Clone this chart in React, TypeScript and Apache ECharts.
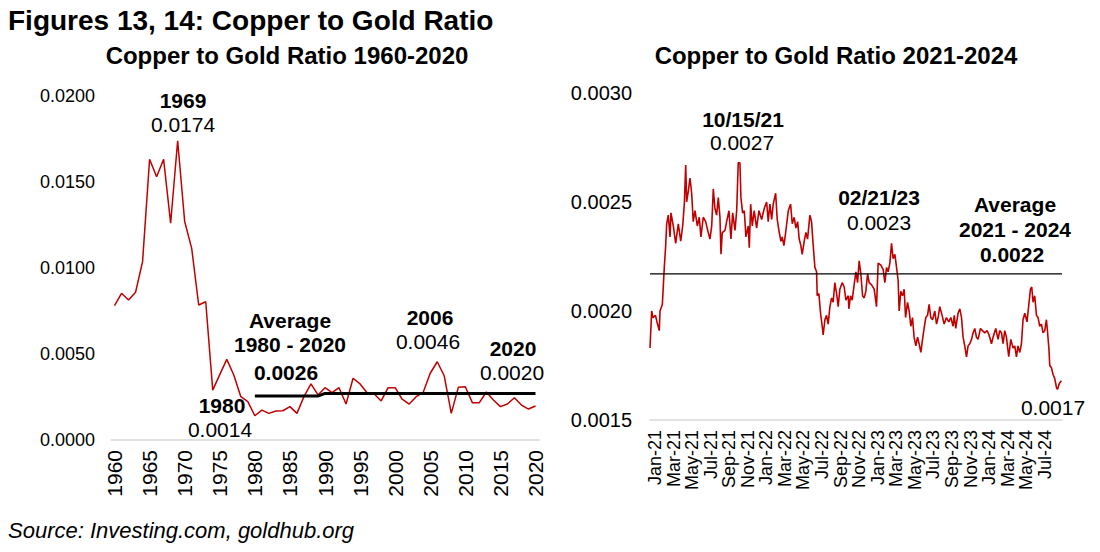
import React, { useEffect, useRef } from "react";
import * as echarts from "echarts";

const FONT = "'Liberation Sans', Arial, Helvetica, sans-serif";
const RED = "#c00000";

// ---------- Left chart: annual copper/gold ratio 1960-2020 ----------
const annualYears: string[] = [];
for (let y = 1960; y <= 2020; y++) annualYears.push(String(y));

const annualRatio = [
  0.00781, 0.00853, 0.00814, 0.00859, 0.01037, 0.01632, 0.01531, 0.01632, 0.0126, 0.0174,
  0.0127, 0.01114, 0.00785, 0.00804, 0.0029, 0.0038, 0.00469, 0.00378, 0.00252, 0.00223,
  0.00141, 0.00174, 0.00155, 0.00169, 0.0017, 0.00194, 0.00155, 0.00252, 0.00326, 0.00262,
  0.00304, 0.00275, 0.00304, 0.00209, 0.00359, 0.00326, 0.00275, 0.00269, 0.00227, 0.00304,
  0.00304, 0.00237, 0.00209, 0.00252, 0.00277, 0.00388, 0.00455, 0.00372, 0.00155, 0.00306,
  0.0031, 0.00217, 0.00217, 0.00279, 0.00233, 0.00194, 0.00209, 0.00246, 0.00203, 0.0018,
  0.00198,
];

// average 1980-2020 line (null before 1980)
const averageEarly = 0.00256; // 1980-1989
const averageLate = 0.00271; // 1990-2020

// ---------- Right chart: 2021-2024 (x = months since Jan 2021) ----------
const recentMonths = [
  -0.54, -0.36, -0.22, 0.05, 0.27, 0.46, 0.54, 0.79, 1.0, 1.15, 1.26, 1.43, 1.62, 1.72, 1.97,
  2.23, 2.51, 2.77, 2.98, 3.16, 3.31, 3.41, 3.59, 3.77, 3.95, 4.12, 4.31, 4.56, 4.77, 4.95,
  5.2, 5.46, 5.68, 5.92, 6.11, 6.28, 6.46, 6.64, 6.82, 7.0, 7.11, 7.25, 7.54, 7.72, 7.97,
  8.18, 8.37, 8.62, 8.8, 8.97, 9.15, 9.26, 9.44, 9.62, 9.8, 10.05, 10.16, 10.31, 10.48, 10.69,
  10.95, 11.2, 11.49, 11.77, 12.03, 12.2, 12.38, 12.57, 12.74, 13.0, 13.17, 13.39, 13.57, 13.71,
  13.89, 14.08, 14.36, 14.61, 14.79, 15.0, 15.18, 15.37, 15.54, 15.72, 15.86, 16.08, 16.26,
  16.44, 16.69, 16.87, 17.05, 17.23, 17.41, 17.48, 17.66, 17.84, 18.02, 18.12, 18.31, 18.49,
  18.66, 18.85, 19.03, 19.2, 19.38, 19.57, 19.74, 19.92, 20.17, 20.39, 20.57, 20.82, 20.89,
  21.07, 21.25, 21.46, 21.65, 21.83, 22.0, 22.18, 22.37, 22.54, 22.72, 22.91, 23.08, 23.34,
  23.62, 23.87, 24.05, 24.34, 24.59, 24.77, 24.95, 25.12, 25.31, 25.49, 25.66, 25.85, 26.03,
  26.2, 26.31, 26.49, 26.67, 26.85, 27.0, 27.21, 27.39, 27.57, 27.75, 27.92, 28.11, 28.29,
  28.46, 28.65, 28.83, 29.0, 29.18, 29.37, 29.54, 29.72, 29.91, 30.15, 30.34, 30.51, 30.69,
  30.94, 31.16, 31.41, 31.66, 31.88, 32.12, 32.25, 32.41, 32.66, 32.85, 33.03, 33.2, 33.38,
  33.57, 33.74, 33.92, 34.11, 34.28, 34.46, 34.64, 34.82, 35.07, 35.29, 35.54, 35.79, 36.0,
  36.26, 36.43, 36.72, 36.97, 37.15, 37.34, 37.51, 37.69, 37.87, 38.12, 38.34, 38.59, 38.77,
  38.95, 39.12, 39.31, 39.49, 39.66, 39.85, 40.09, 40.31, 40.46, 40.6, 40.74, 40.92, 41.11,
  41.28, 41.46, 41.64, 41.82, 42.0, 42.18, 42.29, 42.46, 42.54, 42.72, 42.89, 43.08, 43.26,
  43.37, 43.51, 43.61, 43.8,
];

const recentRatio = [
  0.00183, 0.002, 0.00197, 0.00198, 0.00194, 0.00191, 0.002, 0.00203, 0.0022, 0.0023, 0.0024,
  0.00244, 0.00234, 0.00245, 0.00239, 0.00231, 0.0024, 0.00232, 0.00239, 0.00249, 0.00267,
  0.0025, 0.00255, 0.00261, 0.00254, 0.00241, 0.00246, 0.00239, 0.00243, 0.00234, 0.00243,
  0.00241, 0.00237, 0.00233, 0.00239, 0.00256, 0.00247, 0.00244, 0.00252, 0.00243, 0.00226,
  0.00236, 0.00237, 0.00241, 0.00246, 0.00233, 0.00245, 0.00237, 0.00246, 0.00268, 0.00268,
  0.00252, 0.00245, 0.00246, 0.00234, 0.00239, 0.00229, 0.00249, 0.00239, 0.00246, 0.00238,
  0.00246, 0.00242, 0.00247, 0.0025, 0.00241, 0.00249, 0.00242, 0.00249, 0.00254, 0.00242,
  0.00236, 0.00232, 0.00234, 0.0023, 0.00236, 0.00246, 0.00249, 0.0024, 0.00243, 0.00238,
  0.00241, 0.00233, 0.0023, 0.00226, 0.00232, 0.00236, 0.00233, 0.00244, 0.00241, 0.0023,
  0.0022, 0.00218, 0.00207, 0.00208, 0.00199, 0.00193, 0.00189, 0.00196, 0.00198, 0.00194,
  0.00202, 0.00206, 0.00204, 0.00213, 0.00208, 0.00202, 0.0021, 0.00213, 0.00211, 0.00205,
  0.00207, 0.00201, 0.00207, 0.00205, 0.00212, 0.00218, 0.00213, 0.00223, 0.00217, 0.00207,
  0.00206, 0.00209, 0.00217, 0.00213, 0.00212, 0.0021, 0.00202, 0.00222, 0.00221, 0.00219,
  0.00213, 0.0022, 0.00218, 0.00222, 0.00231, 0.00224, 0.00226, 0.0022, 0.00214, 0.002,
  0.00209, 0.00207, 0.0021, 0.00197, 0.00204, 0.002, 0.00193, 0.00197, 0.00188, 0.00184,
  0.00188, 0.00185, 0.00181, 0.00187, 0.00192, 0.00197, 0.00198, 0.00203, 0.00197, 0.00196,
  0.002, 0.00194, 0.00197, 0.00202, 0.00198, 0.00194, 0.00197, 0.00195, 0.00197, 0.00193,
  0.00198, 0.00192, 0.00199, 0.00201, 0.00197, 0.00188, 0.00184, 0.00179, 0.00184, 0.00185,
  0.00187, 0.0019, 0.00192, 0.00188, 0.00187, 0.00192, 0.00191, 0.0019, 0.00191, 0.00189,
  0.00185, 0.00188, 0.00192, 0.00187, 0.00191, 0.0019, 0.00185, 0.00191, 0.00188, 0.00179,
  0.00187, 0.00183, 0.00184, 0.00179, 0.00184, 0.00181, 0.00185, 0.00196, 0.00199, 0.00195,
  0.00204, 0.0021, 0.00211, 0.00204, 0.00207, 0.00198, 0.00197, 0.00193, 0.00194, 0.0019,
  0.00191, 0.00196, 0.00191, 0.00182, 0.00175, 0.00174, 0.00171, 0.00169, 0.00165, 0.00164,
  0.00166, 0.00167, 0.00168,
];

const recentAverage = 0.00217;
const recentAxisStart = -0.54;
const recentAxisEnd = 43.86;
const recentTickMonths = [0, 2, 4, 6, 8, 10, 12, 14, 16, 18, 20, 22, 24, 26, 28, 30, 32, 34, 36, 38, 40, 42];
const monthNames = ["Jan", "Feb", "Mar", "Apr", "May", "Jun", "Jul", "Aug", "Sep", "Oct", "Nov", "Dec"];

function monthLabel(m: number): string {
  const idx = Math.round(m);
  return monthNames[idx % 12] + "-" + String(21 + Math.floor(idx / 12));
}

export default function App() {
  const ref = useRef<HTMLDivElement>(null);

  useEffect(() => {
    if (!ref.current) return;
    const chart = echarts.init(ref.current, undefined, { renderer: "svg" });

    const annualAverage = annualYears.map((y) => {
      const yr = Number(y);
      if (yr < 1980) return null;
      return yr < 1990 ? averageEarly : averageLate;
    });

    const recentData = recentMonths.map((m, i) => [m, recentRatio[i]]);

    const txt = (x: number, y: number, text: string, size: number, bold: boolean, align = "center", italic = false) => ({
      type: "text",
      x,
      y,
      style: {
        text,
        fill: "#000",
        font: `${italic ? "italic " : ""}${bold ? "bold " : ""}${size}px ${FONT}`,
        textAlign: align,
        textVerticalAlign: "middle",
      },
    });

    chart.setOption({
      animation: false,
      backgroundColor: "#ffffff",
      textStyle: { fontFamily: FONT },
      grid: [
        { left: 111, right: 561, top: 96, bottom: 112 },
        { left: 650, right: 38, top: 93, bottom: 132 },
      ],
      xAxis: [
        {
          type: "category",
          gridIndex: 0,
          data: annualYears,
          boundaryGap: true,
          axisLine: { lineStyle: { color: "#d9d9d9", width: 1.5 } },
          axisTick: { show: false },
          axisLabel: { interval: 4, rotate: 90, fontSize: 21, color: "#000", margin: 10, fontFamily: FONT },
          splitLine: { show: false },
        },
        {
          type: "value",
          gridIndex: 1,
          min: recentAxisStart,
          max: recentAxisEnd,
          axisLine: { lineStyle: { color: "#d9d9d9", width: 1.5 } },
          axisTick: { show: false },
          splitLine: { show: false },
          axisLabel: {
            customValues: recentTickMonths,
            rotate: 90,
            fontSize: 18,
            color: "#000",
            margin: 10,
            fontFamily: FONT,
            formatter: (v: number) => monthLabel(v),
          },
        },
      ],
      yAxis: [
        {
          type: "value",
          gridIndex: 0,
          min: 0,
          max: 0.02,
          interval: 0.005,
          axisLine: { show: false },
          axisTick: { show: false },
          splitLine: { show: false },
          axisLabel: { fontSize: 18, color: "#000", margin: 16, fontFamily: FONT, formatter: (v: number) => v.toFixed(4) },
        },
        {
          type: "value",
          gridIndex: 1,
          min: 0.0015,
          max: 0.003,
          interval: 0.0005,
          axisLine: { show: false },
          axisTick: { show: false },
          splitLine: { show: false },
          axisLabel: { fontSize: 20, color: "#000", margin: 18, fontFamily: FONT, formatter: (v: number) => v.toFixed(4) },
        },
      ],
      series: [
        {
          type: "line",
          xAxisIndex: 0,
          yAxisIndex: 0,
          data: annualRatio,
          symbol: "none",
          lineStyle: { color: RED, width: 1.5 },
          z: 3,
        },
        {
          type: "line",
          xAxisIndex: 0,
          yAxisIndex: 0,
          data: annualAverage,
          symbol: "none",
          lineStyle: { color: "#000", width: 3 },
          z: 4,
        },
        {
          type: "line",
          xAxisIndex: 1,
          yAxisIndex: 1,
          data: recentData,
          symbol: "none",
          lineStyle: { color: RED, width: 1.6 },
          z: 3,
        },
        {
          type: "line",
          xAxisIndex: 1,
          yAxisIndex: 1,
          data: [
            [recentAxisStart, recentAverage],
            [recentAxisEnd, recentAverage],
          ],
          symbol: "none",
          lineStyle: { color: "#000", width: 1.2 },
          z: 4,
        },
      ],
      graphic: [
        txt(8, 20, "Figures 13, 14: Copper to Gold Ratio", 28, true, "left"),
        txt(287, 55, "Copper to Gold Ratio 1960-2020", 24, true),
        txt(836, 55, "Copper to Gold Ratio 2021-2024", 24, true),
        txt(8, 530, "Source: Investing.com, goldhub.org", 22, false, "left", true),
        // left annotations
        txt(183, 100, "1969", 21, true),
        txt(183, 124, "0.0174", 21, false),
        txt(290, 320, "Average", 21, true),
        txt(290, 344, "1980 - 2020", 21, true),
        txt(286, 372, "0.0026", 21, true),
        txt(222, 405, "1980", 21, true),
        txt(220, 429, "0.0014", 21, false),
        txt(430, 317, "2006", 21, true),
        txt(428, 341, "0.0046", 21, false),
        txt(513, 348, "2020", 21, true),
        txt(512, 372, "0.0020", 21, false),
        // right annotations
        txt(743, 119, "10/15/21", 21, true),
        txt(742, 142, "0.0027", 21, false),
        txt(879, 197, "02/21/23", 21, true),
        txt(879, 222, "0.0023", 21, false),
        txt(1015, 204, "Average", 21, true),
        txt(1015, 229, "2021 - 2024", 21, true),
        txt(1012, 254, "0.0022", 21, true),
        txt(1053, 407, "0.0017", 21, false),
      ],
    });

    return () => chart.dispose();
  }, []);

  return <div ref={ref} style={{ position: "fixed", left: 0, top: 0, width: 1100, height: 552 }} />;
}
